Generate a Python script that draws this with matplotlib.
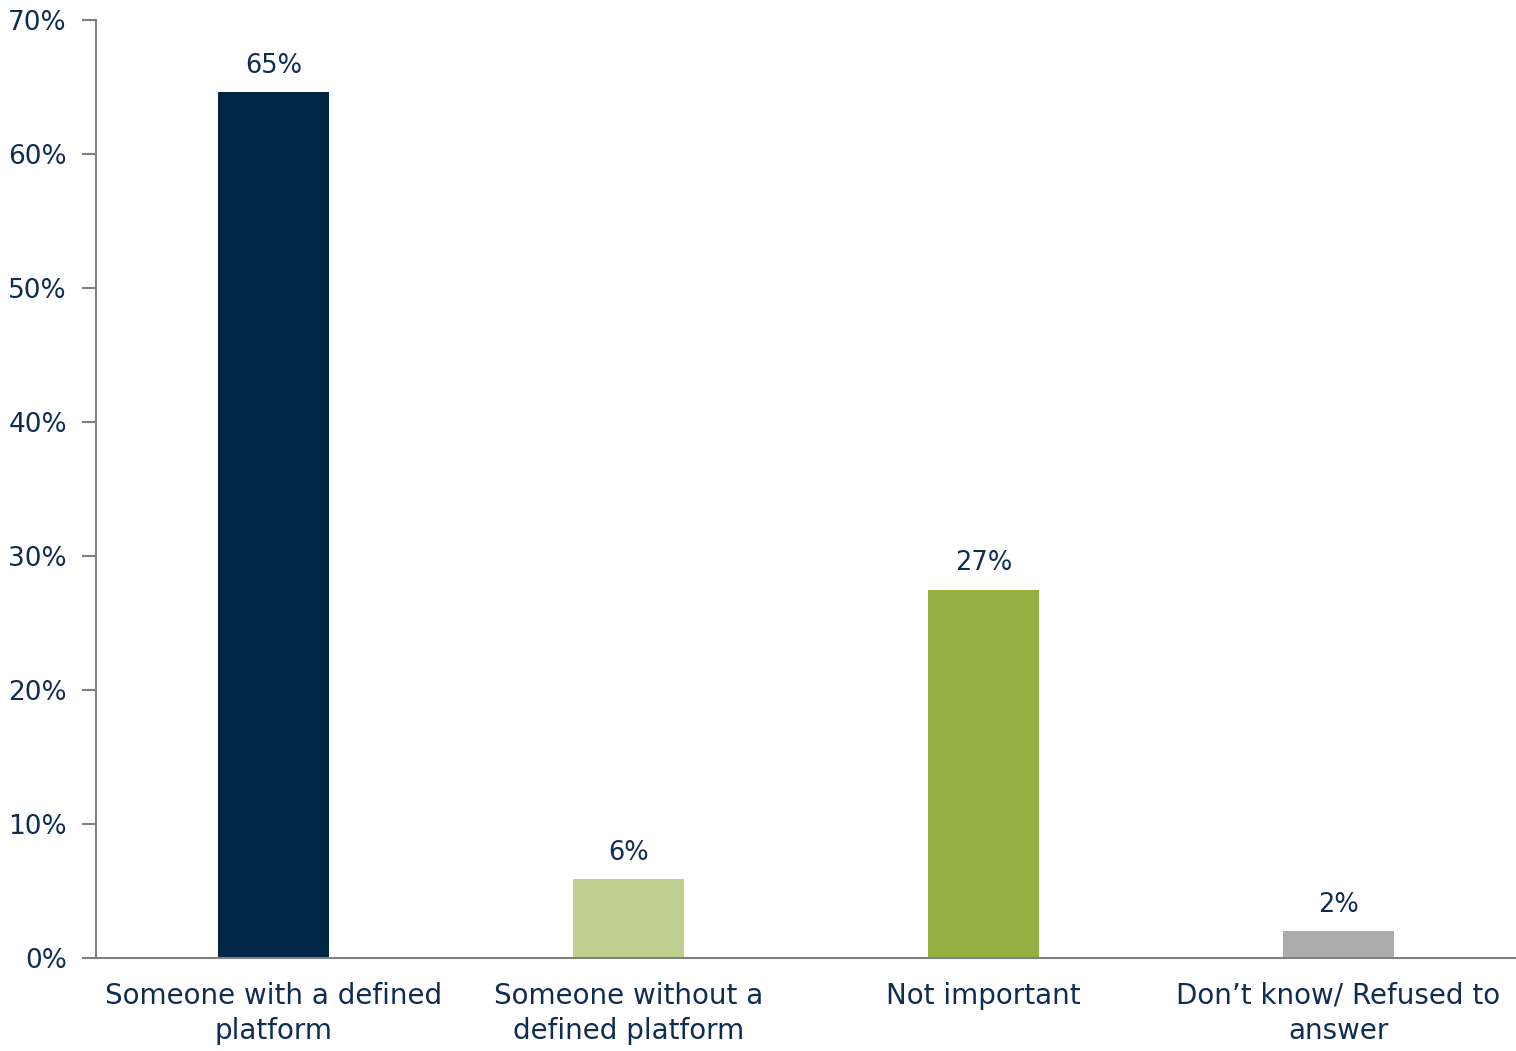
from matplotlib import pyplot as plt
from matplotlib.ticker import FuncFormatter

categories = ["Someone with a defined\nplatform", "Someone without a\ndefined platform",
              "Not important", "Don\u2019t know/ Refused to\nanswer"]
values = [64.6, 5.9, 27.5, 2.0]
labels = ["65%", "6%", "27%", "2%"]
colors = ["#002646", "#BDD08F", "#93B040", "#ABABAB"]

text_color = "#0F2D52"
axis_color = "#808080"

plt.rcParams['font.family'] = ['DejaVu Sans']

fig = plt.figure(figsize=(15.16, 10.51), dpi=100)
ax = fig.add_axes([96 / 1516, 93 / 1051, 1420 / 1516, 938 / 1051])

x = range(len(categories))
ax.bar(x, values, width=0.315, color=colors)

for i, v in enumerate(values):
    ax.text(i, v + 1.0, labels[i], ha="center", va="bottom", fontsize=18.5, color=text_color)

ax.set_xlim(-0.5, 3.5)
ax.set_ylim(0, 70)
ax.set_yticks(range(0, 71, 10))
ax.yaxis.set_major_formatter(FuncFormatter(lambda v, p: "%d%%" % v))
ax.set_xticks(list(x))
ax.set_xticklabels(categories, fontsize=20, color=text_color, linespacing=1.35)
ax.tick_params(axis="x", length=0, pad=17)
ax.tick_params(axis="y", length=10, width=1.5, color=axis_color, labelsize=19,
               labelcolor=text_color, pad=11)

for s in ["top", "right"]:
    ax.spines[s].set_visible(False)
for s in ["left", "bottom"]:
    ax.spines[s].set_color(axis_color)
    ax.spines[s].set_linewidth(1.5)

fig.savefig("out.png", dpi=100)
